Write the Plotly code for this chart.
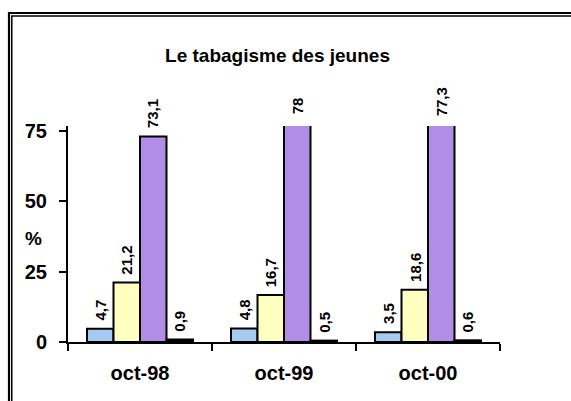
import plotly.graph_objects as go

# Data
categories = ["oct-98", "oct-99", "oct-00"]
serie_bleue = [4.7, 4.8, 3.5]
serie_jaune = [21.2, 16.7, 18.6]
serie_violette = [73.1, 78, 77.3]
serie_noire = [0.9, 0.5, 0.6]

series = [
    ("Série 1", serie_bleue, "#a6caf0"),
    ("Série 2", serie_jaune, "#ffffc0"),
    ("Série 3", serie_violette, "#b18de8"),
    ("Série 4", serie_noire, "#000000"),
]

W, H = 571, 401
ML, MR, MT, MB = 68, 71, 126, 59
Y_MAX = 76.8
BARGAP = 0.264
font_family = "Arial, 'Liberation Sans', sans-serif"

fig = go.Figure()
for name, vals, color in series:
    fig.add_trace(go.Bar(
        x=categories, y=vals, name=name,
        marker=dict(color=color, line=dict(color="black", width=2)),
        showlegend=False, hoverinfo="x+y",
    ))

# value labels (rotated), placed at the real value even when the bar is clipped
# (y in paper units so labels above the axis range are still drawn)
plot_w = W - ML - MR
cat_w = plot_w / len(categories)
bar_w = cat_w * (1 - BARGAP) / len(series)
for i, (name, vals, color) in enumerate(series):
    offset = (i - (len(series) - 1) / 2) * bar_w
    for cat, v in zip(categories, vals):
        txt = f"{v:g}".replace(".", ",")
        fig.add_annotation(
            x=cat, y=v / Y_MAX, xref="x", yref="paper",
            text=txt, textangle=-90, showarrow=False,
            xanchor="center", yanchor="bottom",
            xshift=offset, yshift=6,
            font=dict(family=font_family, size=15, color="black", weight="bold"),
        )

# "%" axis label
fig.add_annotation(
    x=(33 - ML) / plot_w, y=(H - MB - 238) / (H - MT - MB),
    xref="paper", yref="paper", text="<b>%</b>", showarrow=False,
    xanchor="center", yanchor="middle",
    font=dict(family=font_family, size=19, color="black"),
)

# double frame (cut off at right and bottom)
def px_to_paper_x(px):
    return (px - ML) / plot_w

def px_to_paper_y(py):
    return (H - MB - py) / (H - MT - MB)

for x0, y0, w in [(9, 13, 2.2), (11.8, 16, 1.5)]:
    fig.add_shape(
        type="rect", xref="paper", yref="paper",
        x0=px_to_paper_x(x0), y0=px_to_paper_y(H + 20),
        x1=px_to_paper_x(W + 20), y1=px_to_paper_y(y0),
        line=dict(color="black", width=w), fillcolor="rgba(0,0,0,0)",
        layer="above",
    )

fig.update_layout(
    width=W, height=H,
    margin=dict(l=ML, r=MR, t=MT, b=MB, pad=0),
    paper_bgcolor="white", plot_bgcolor="white",
    barmode="group", bargap=BARGAP, bargroupgap=0,
    font=dict(family=font_family, color="black"),
    title=dict(
        text="<b>Le tabagisme des jeunes</b>",
        x=277.5 / W, xanchor="center", xref="container",
        y=1 - 55 / H, yanchor="middle", yref="container",
        font=dict(family=font_family, size=19, color="black"),
    ),
    xaxis=dict(
        showline=True, linecolor="black", linewidth=2,
        ticks="outside", tickson="boundaries", ticklen=7, tickwidth=2, tickcolor="black",
        showgrid=False, zeroline=False, automargin=False,
        tickfont=dict(family=font_family, size=20, color="black", weight="bold"),
        ticklabelstandoff=12,
    ),
    yaxis=dict(
        range=[0, Y_MAX], tickvals=[0, 25, 50, 75],
        showline=True, linecolor="black", linewidth=2,
        ticks="outside", ticklen=7, tickwidth=2, tickcolor="black",
        showgrid=False, zeroline=False, automargin=False,
        tickfont=dict(family=font_family, size=20, color="black", weight="bold"),
        ticklabelstandoff=8,
    ),
)

# page body has a default margin; remove it so the figure sits at (0, 0)
fig.write_html(
    "out.html",
    config={"displayModeBar": False},
    post_script="document.body.style.margin='0';",
)
